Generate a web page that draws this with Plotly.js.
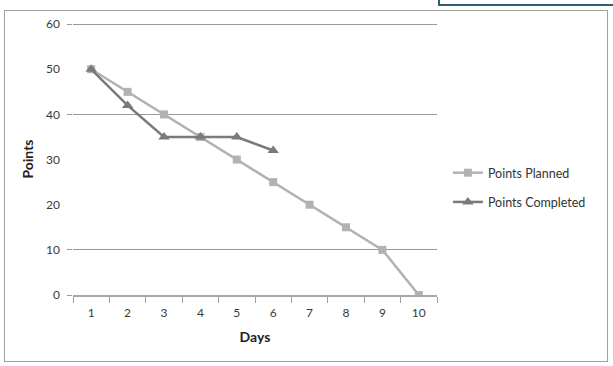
<!DOCTYPE html>
<html>
<head>
<meta charset="utf-8">
<script src="https://cdn.plot.ly/plotly-3.0.1.min.js"></script>
<style>
  html, body { margin: 0; padding: 0; background: #fff; }
  #wrap { position: relative; width: 613px; height: 366px; overflow: hidden; }
  #chart { position: absolute; left: 0; top: 0; width: 613px; height: 366px; }
  #frame { position: absolute; left: 4px; top: 10px; width: 604px; height: 352px; border: 1px solid #a0a0a0; box-sizing: border-box; pointer-events: none; }
  #teal { position: absolute; left: 438px; top: -4px; width: 190px; height: 10px; border: 2px solid #2f5f6f; box-sizing: border-box; background: #fff; pointer-events: none; }
</style>
</head>
<body>
<div id="wrap">
  <div id="chart"></div>
  <div id="frame"></div>
  <div id="teal"></div>
</div>
<script>
const days = ['1','2','3','4','5','6','7','8','9','10'];
const plannedPoints = [50, 45, 40, 35, 30, 25, 20, 15, 10, 0];
const completedDays = ['1','2','3','4','5','6'];
const completedPoints = [50, 42, 35, 35, 35, 32];
const yTicks = [0, 10, 20, 30, 40, 50, 60];
const visibleGrid = [0, 10, 40, 60];

const FONT = 'Lato, "Open Sans", sans-serif';
const YRANGE = [0, 60.25];

const traces = [
  {
    x: days, y: plannedPoints, name: 'Points Planned', type: 'scatter', mode: 'lines+markers',
    line: { color: '#b2b2b2', width: 2.5 },
    marker: { symbol: 'square', size: 8, color: '#b2b2b2' },
    legendgroup: 'a'
  },
  {
    x: completedDays, y: completedPoints, name: 'Points Completed', type: 'scatter', mode: 'lines+markers',
    line: { color: '#7a7a7a', width: 2.5 },
    marker: { symbol: 'triangle-up', size: 10, color: '#7a7a7a' },
    legendgroup: 'b'
  },
  {
    x: days, y: plannedPoints, yaxis: 'y2', type: 'scatter', mode: 'none',
    showlegend: false, hoverinfo: 'skip'
  }
];

const layout = {
  width: 613, height: 366,
  margin: { l: 73, r: 176, t: 23, b: 71 },
  paper_bgcolor: 'rgba(0,0,0,0)',
  plot_bgcolor: 'rgba(0,0,0,0)',
  font: { family: FONT, size: 12, color: '#3a3a3a' },
  showlegend: true,
  xaxis: {
    type: 'category', range: [-0.5, 9.5], tickson: 'boundaries',
    ticks: 'outside', ticklen: 6, tickcolor: '#a0a0a0', tickwidth: 1,
    showline: true, linecolor: '#a8a8a8', linewidth: 1.5,
    showgrid: false, zeroline: false,
    ticklabelstandoff: 6,
    tickfont: { family: FONT, size: 12, color: '#3a3a3a' },
    title: { text: 'Days', font: { family: FONT, size: 14, color: '#222', weight: 'bold' }, standoff: 13 }
  },
  yaxis: {
    range: YRANGE, tickvals: yTicks, ticktext: yTicks.map(String),
    showgrid: false, zeroline: false, showline: false, ticks: '',
    ticklabelstandoff: 12,
    tickfont: { family: FONT, size: 12, color: '#3a3a3a' },
    title: { text: 'Points', font: { family: FONT, size: 14, color: '#222', weight: 'bold' }, standoff: 9 }
  },
  yaxis2: {
    overlaying: 'y', side: 'left', range: YRANGE, tickvals: visibleGrid,
    showticklabels: false, ticks: 'outside', ticklen: 5, tickcolor: '#999',
    showgrid: true, gridcolor: '#9a9a9a', gridwidth: 1, zeroline: false, showline: false
  },
  legend: {
    x: 1.03, y: 0.395, xanchor: 'left', yanchor: 'middle',
    font: { family: FONT, size: 12.5, color: '#333' },
    bgcolor: 'rgba(0,0,0,0)', tracegroupgap: 10, traceorder: 'grouped'
  }
};

Plotly.newPlot('chart', traces, layout, { displayModeBar: false, staticPlot: true });
</script>
</body>
</html>
